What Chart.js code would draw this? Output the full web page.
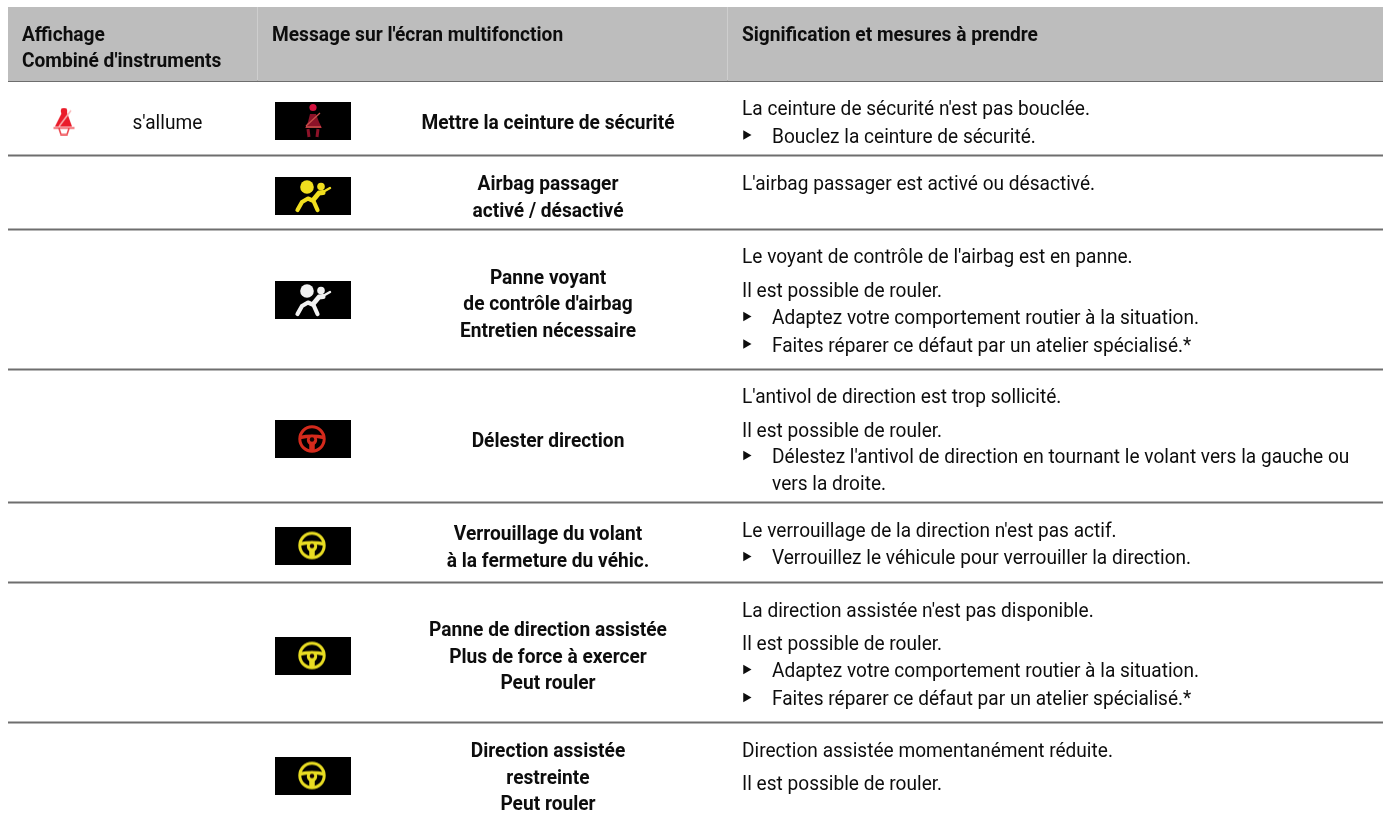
<!DOCTYPE html>
<html lang="fr">
<head>
<meta charset="utf-8">
<title>Affichage et messages</title>
<style>html,body{margin:0;padding:0;background:#fff;overflow:hidden}canvas{display:block}</style>
<script src="https://cdn.jsdelivr.net/npm/chart.js@4"></script>
</head>
<body>
<canvas id="c" width="1383" height="818"></canvas>
<script>
// ---- data ----
const headerCol1 = ["Affichage", "Combiné d'instruments"];
const headerCol2 = ["Message sur l'écran multifonction"];
const headerCol3 = ["Signification et mesures à prendre"];
const statusLabels = ["s'allume"];
const messageLines = [
  ["Mettre la ceinture de sécurité"],
  ["Airbag passager", "activé / désactivé"],
  ["Panne voyant", "de contrôle d'airbag", "Entretien nécessaire"],
  ["Délester direction"],
  ["Verrouillage du volant", "à la fermeture du véhic."],
  ["Panne de direction assistée", "Plus de force à exercer", "Peut rouler"],
  ["Direction assistée", "restreinte", "Peut rouler"]
];
const meaningLines = [
  ["La ceinture de sécurité n'est pas bouclée.", "Bouclez la ceinture de sécurité."],
  ["L'airbag passager est activé ou désactivé."],
  ["Le voyant de contrôle de l'airbag est en panne.", "Il est possible de rouler.", "Adaptez votre comportement routier à la situation.", "Faites réparer ce défaut par un atelier spécialisé.*"],
  ["L'antivol de direction est trop sollicité.", "Il est possible de rouler.", "Délestez l'antivol de direction en tournant le volant vers la gauche ou", "vers la droite."],
  ["Le verrouillage de la direction n'est pas actif.", "Verrouillez le véhicule pour verrouiller la direction."],
  ["La direction assistée n'est pas disponible.", "Il est possible de rouler.", "Adaptez votre comportement routier à la situation.", "Faites réparer ce défaut par un atelier spécialisé.*"],
  ["Direction assistée momentanément réduite.", "Il est possible de rouler."]
];
const meaningBullets = [[1],[],[2,3],[2],[1],[2,3],[]];
const meaningIndented = [[],[],[],[3],[],[],[]];
const iconKinds = ["belt","airbagY","airbagW","wheelR","wheelY","wheelY","wheelY"];

// ---- layout on the page's pixel grid ----
const ruleRows = [81,155.5,229.5,369.5,502.5,582.5,722.5];
const headerEdges = [8,257.5,727.5,1383];
const iconCentres = [121,196,300,439,545.5,655.5,775.5];
const messageBaselines = [[129],[190,216.5],[284,310,336.5],[447],[540,566.5],[636,662.5,689],[757,783.5,810]];
const meaningBaselines = [[115,142.5],[190],[263,296.5,324,351.5],[402.5,436.5,463,490],[536.5,564],[616.5,650,677,705],[756.5,790]];

// ---- icons (canvas point styles) ----
function glyph(w,h,bg,draw){
  const c=document.createElement('canvas');c.width=w;c.height=h;
  const g=c.getContext('2d');g.fillStyle=bg;g.fillRect(0,0,w,h);
  g.filter='blur(0.7px)';draw(g);return c;
}
function circle(g,x,y,r){g.beginPath();g.arc(x,y,r,0,Math.PI*2);g.fill();}
function darkBelt(g){
  g.fillStyle='#d4123e';circle(g,38,5.5,3.6);
  g.fillStyle='#8c1228';
  g.beginPath();g.moveTo(35,12);g.lineTo(41,12);g.lineTo(44,20);g.lineTo(47,26);g.lineTo(30,26);g.lineTo(33,20);g.closePath();g.fill();
  g.strokeStyle='#8c1228';g.lineWidth=3;g.beginPath();
  g.moveTo(33,27);g.lineTo(34,35);g.moveTo(43,27);g.lineTo(42,35);g.stroke();
  g.strokeStyle='#c8504a';g.lineWidth=1.3;g.beginPath();g.moveTo(31,24);g.lineTo(45,11);g.moveTo(31,25);g.lineTo(46,25);g.stroke();
}
function smallBeltDraw(g){
  g.fillStyle='#ea1c2a';circle(g,11,3.5,3.2);
  g.beginPath();g.moveTo(9,5);g.lineTo(14,5);g.lineTo(19,19);g.lineTo(2,19);g.closePath();g.fill();
  g.strokeStyle='#f8b4b4';g.lineWidth=1.4;g.beginPath();g.moveTo(6,19);g.lineTo(18,3);g.stroke();
  g.strokeStyle='#ee4a50';g.lineWidth=1.6;g.beginPath();g.moveTo(0.5,20.5);g.lineTo(21.5,20.5);g.stroke();
  g.beginPath();g.moveTo(6,21);g.lineTo(8,27);g.lineTo(14,27);g.lineTo(16,21);g.stroke();
}
function airbag(col){
  return glyph(76,38,'#000',g=>{
    g.fillStyle=col;g.strokeStyle=col;
    circle(g,32,10,6.8);circle(g,46,9.5,3.8);
    g.lineCap='round';g.lineJoin='round';g.lineWidth=4.2;
    g.beginPath();g.moveTo(22.5,33);g.lineTo(27,25);g.lineTo(33,21.5);g.lineTo(38.5,24);g.lineTo(42.5,33);g.stroke();
    g.lineWidth=5;g.beginPath();g.moveTo(39,22);g.lineTo(44,16);g.lineTo(48,15.5);g.stroke();
    g.lineWidth=2.4;g.beginPath();g.moveTo(48,15);g.lineTo(55,11);g.stroke();
  });
}
function wheel(col){
  return glyph(76,38,'#000',g=>{
    g.strokeStyle=col;g.fillStyle=col;g.lineCap='butt';
    g.lineWidth=3;g.beginPath();g.arc(37,19,12.2,0,Math.PI*2);g.stroke();
    g.lineWidth=3.4;g.beginPath();g.moveTo(25,17.5);g.quadraticCurveTo(37,15,49,17.5);g.stroke();
    circle(g,37,20,5.2);
    g.lineWidth=5.5;g.beginPath();g.moveTo(37,22);g.lineTo(37,31);g.stroke();
    g.fillStyle='#140404';circle(g,37,19.5,2.2);
  });
}
const iconFactory = {
  belt:()=>glyph(76,38,'#000',darkBelt),
  airbagY:()=>airbag('#f0de1e'),
  airbagW:()=>airbag('#f2f2f2'),
  wheelR:()=>wheel('#d42a1c'),
  wheelY:()=>wheel('#e8dc22')
};
const smallBelt = glyph(22,28,'#fff',smallBeltDraw);

// ---- chart ----
const line=(pts,color,width)=>({data:pts,showLine:true,borderColor:color,borderWidth:width,pointRadius:0,borderCapStyle:'butt',tension:0,order:2});
const bands=headerEdges.slice(0,-1).map((x,i)=>line([{x:x,y:44},{x:headerEdges[i+1],y:44}],'#bdbdbd',74));
const rules=ruleRows.map(y=>line([{x:8,y},{x:1383,y}],'#6e6e6e',2));
const dividers=headerEdges.slice(1,-1).map(x=>line([{x,y:7},{x,y:82}],'#ffffff',1));
const bulletPts=[];
meaningBullets.forEach((r,i)=>r.forEach(j=>bulletPts.push({x:746,y:meaningBaselines[i][j]-7.5})));

const regularFont='400 19.5px Roboto', boldFont='700 20px Roboto';
const probe=document.createElement('canvas').getContext('2d');
function fit(font,sample,target){probe.font=font;return target/probe.measureText(sample).width;}
const textPlugin={
  id:'tableText',
  afterDatasetsDraw(chart){
    const {ctx,scales:{x,y}}=chart;
    const rx=fit(regularFont,"Adaptez votre comportement routier à la situation.",427);
    const bx=fit(boldFont,"Mettre la ceinture de sécurité",253);
    const put=(s,px,py,font,sx,align)=>{
      ctx.save();ctx.font=font;ctx.fillStyle='#0d0d0d';ctx.textBaseline='alphabetic';ctx.textAlign=align;
      ctx.translate(x.getPixelForValue(px),y.getPixelForValue(py));ctx.scale(sx,1);ctx.fillText(s,0,0);ctx.restore();
    };
    headerCol1.forEach((s,i)=>put(s,22,[40.5,66.5][i],boldFont,bx,'left'));
    headerCol2.forEach(s=>put(s,272,40.5,boldFont,bx,'left'));
    headerCol3.forEach(s=>put(s,742,40.5,boldFont,bx,'left'));
    statusLabels.forEach(s=>put(s,132.5,129,regularFont,rx,'left'));
    messageLines.forEach((r,i)=>r.forEach((s,j)=>put(s,548,messageBaselines[i][j],boldFont,bx,'center')));
    meaningLines.forEach((r,i)=>r.forEach((s,j)=>{
      const ind=meaningBullets[i].includes(j)||meaningIndented[i].includes(j);
      put(s,ind?772:742,meaningBaselines[i][j],regularFont,rx,'left');
    }));
  }
};
new Chart(document.getElementById('c'),{
  type:'scatter',
  data:{datasets:[
    ...bands,...rules,...dividers,
    {data:iconCentres.map(y=>({x:313,y})),pointStyle:iconKinds.map(k=>iconFactory[k]()),pointRadius:10,showLine:false,order:1},
    {data:[{x:64,y:121.5}],pointStyle:smallBelt,pointRadius:10,showLine:false,order:1},
    {data:bulletPts,pointStyle:'triangle',rotation:90,pointRadius:5.5,pointBackgroundColor:'#0d0d0d',pointBorderWidth:0,showLine:false,order:1}
  ]},
  options:{
    responsive:false,animation:false,
    layout:{padding:0,autoPadding:false},
    events:[],
    plugins:{legend:{display:false},tooltip:{enabled:false},title:{display:false}},
    scales:{
      x:{type:'linear',min:0,max:1383,display:false},
      y:{type:'linear',min:0,max:818,reverse:true,display:false}
    }
  },
  plugins:[textPlugin]
});
</script>
</body>
</html>
